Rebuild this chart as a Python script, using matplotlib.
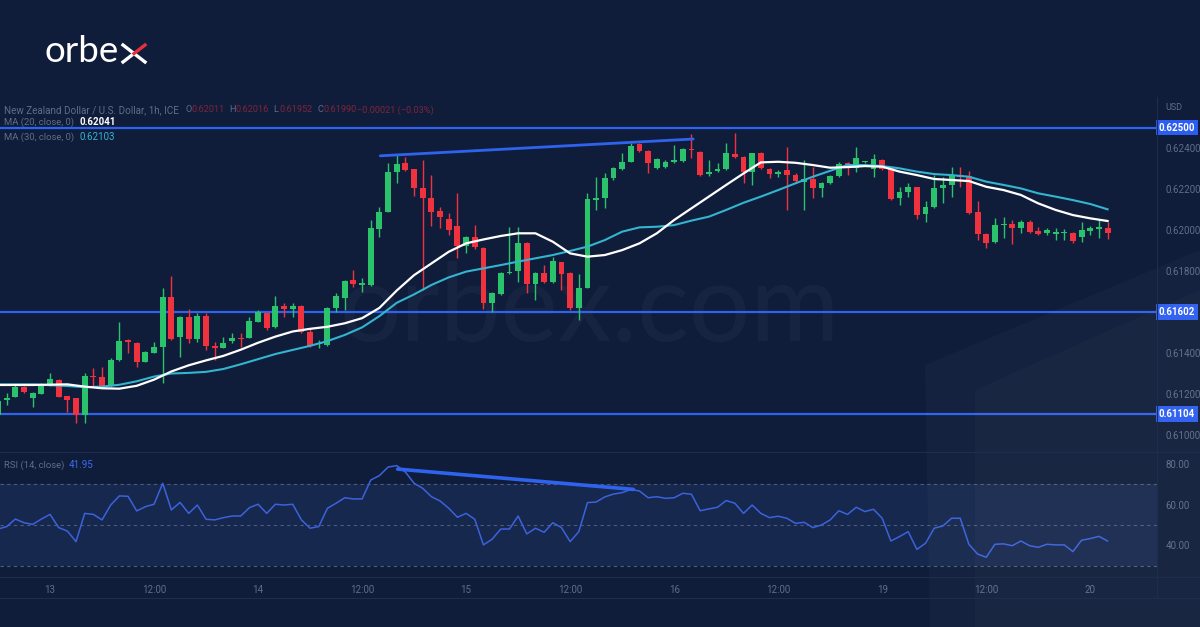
import numpy as np
import matplotlib.pyplot as plt
from matplotlib.patches import Polygon
from matplotlib.lines import Line2D

# ---- data (NZD/USD, 1h candles) ----
hours = np.arange(-6, 123)  # candle index, 0 = "13" 00:00

opens = [0.61098, 0.61171, 0.61187, 0.61236, 0.61179, 0.61200, 0.61239, 0.61268, 0.61190, 0.61179,
         0.61098, 0.61288, 0.61285, 0.61239, 0.61366, 0.61463, 0.61450, 0.61358, 0.61398, 0.61428,
         0.61672, 0.61476, 0.61577, 0.61468, 0.61582, 0.61434, 0.61426, 0.61457, 0.61475, 0.61475,
         0.61553, 0.61593, 0.61528, 0.61631, 0.61613, 0.61631, 0.61504, 0.61444, 0.61439, 0.61618,
         0.61667, 0.61756, 0.61732, 0.61732, 0.62003, 0.62089, 0.62281, 0.62328, 0.62296, 0.62203,
         0.62154, 0.62093, 0.62054, 0.62020, 0.61922, 0.61967, 0.61911, 0.61642, 0.61688, 0.61789,
         0.61800, 0.61938, 0.61735, 0.61792, 0.61745, 0.61842, 0.61792, 0.61618, 0.61719, 0.62146,
         0.62154, 0.62252, 0.62296, 0.62333, 0.62420, 0.62385, 0.62301, 0.62306, 0.62332, 0.62337,
         0.62395, 0.62382, 0.62273, 0.62289, 0.62296, 0.62369, 0.62354, 0.62281, 0.62374, 0.62296,
         0.62272, 0.62293, 0.62268, 0.62236, 0.62247, 0.62207, 0.62228, 0.62263, 0.62325, 0.62304,
         0.62330, 0.62296, 0.62341, 0.62301, 0.62154, 0.62187, 0.62208, 0.62078, 0.62114, 0.62203,
         0.62220, 0.62268, 0.62263, 0.62089, 0.61980, 0.61943, 0.62026, 0.62029, 0.62008, 0.62041,
         0.61995, 0.61987, 0.61980, 0.61985, 0.61984, 0.61967, 0.61997, 0.62003, 0.62011]
highs = [0.61175, 0.61207, 0.61244, 0.61241, 0.61208, 0.61252, 0.61301, 0.61272, 0.61192, 0.61182,
         0.61301, 0.61325, 0.61333, 0.61374, 0.61553, 0.61466, 0.61455, 0.61410, 0.61455, 0.61715,
         0.61776, 0.61580, 0.61613, 0.61597, 0.61597, 0.61455, 0.61480, 0.61496, 0.61496, 0.61577,
         0.61610, 0.61597, 0.61678, 0.61642, 0.61642, 0.61634, 0.61520, 0.61463, 0.61626, 0.61691,
         0.61756, 0.61805, 0.61764, 0.62049, 0.62114, 0.62328, 0.62366, 0.62358, 0.62300, 0.62341,
         0.62268, 0.62114, 0.62081, 0.62179, 0.61970, 0.62024, 0.61915, 0.61699, 0.61797, 0.62016,
         0.62016, 0.61943, 0.61797, 0.61829, 0.61870, 0.61846, 0.61797, 0.61784, 0.62179, 0.62260,
         0.62276, 0.62309, 0.62374, 0.62426, 0.62426, 0.62390, 0.62350, 0.62341, 0.62415, 0.62398,
         0.62468, 0.62387, 0.62341, 0.62325, 0.62423, 0.62475, 0.62361, 0.62377, 0.62379, 0.62301,
         0.62293, 0.62407, 0.62276, 0.62341, 0.62309, 0.62236, 0.62268, 0.62333, 0.62333, 0.62403,
         0.62335, 0.62371, 0.62345, 0.62309, 0.62211, 0.62231, 0.62211, 0.62143, 0.62268, 0.62260,
         0.62309, 0.62309, 0.62289, 0.62141, 0.61984, 0.62057, 0.62062, 0.62049, 0.62049, 0.62049,
         0.62016, 0.62008, 0.62008, 0.62003, 0.61992, 0.62041, 0.62020, 0.62049, 0.62041]
lows = [0.61090, 0.61146, 0.61185, 0.61207, 0.61138, 0.61198, 0.61237, 0.61184, 0.61114, 0.61057,
        0.61057, 0.61236, 0.61236, 0.61236, 0.61363, 0.61398, 0.61333, 0.61355, 0.61398, 0.61252,
        0.61463, 0.61382, 0.61447, 0.61455, 0.61415, 0.61366, 0.61423, 0.61447, 0.61431, 0.61472,
        0.61550, 0.61512, 0.61524, 0.61577, 0.61577, 0.61500, 0.61428, 0.61423, 0.61436, 0.61602,
        0.61610, 0.61724, 0.61699, 0.61729, 0.61967, 0.62086, 0.62228, 0.62290, 0.62166, 0.61707,
        0.62020, 0.62008, 0.61976, 0.61862, 0.61886, 0.61905, 0.61613, 0.61602, 0.61683, 0.61786,
        0.61748, 0.61691, 0.61659, 0.61740, 0.61740, 0.61707, 0.61610, 0.61561, 0.61716, 0.62098,
        0.62106, 0.62244, 0.62293, 0.62330, 0.62382, 0.62280, 0.62296, 0.62301, 0.62325, 0.62333,
        0.62350, 0.62263, 0.62263, 0.62285, 0.62293, 0.62350, 0.62228, 0.62220, 0.62297, 0.62252,
        0.62260, 0.62098, 0.62228, 0.62098, 0.62154, 0.62159, 0.62224, 0.62260, 0.62268, 0.62285,
        0.62325, 0.62257, 0.62293, 0.62146, 0.62122, 0.62163, 0.62052, 0.62041, 0.62106, 0.62130,
        0.62163, 0.62211, 0.62078, 0.61951, 0.61911, 0.61938, 0.61959, 0.61932, 0.61984, 0.61984,
        0.61976, 0.61976, 0.61951, 0.61951, 0.61938, 0.61943, 0.61976, 0.61959, 0.61955]
closes = [0.61166, 0.61182, 0.61233, 0.61211, 0.61203, 0.61241, 0.61272, 0.61187, 0.61171, 0.61098,
          0.61288, 0.61281, 0.61239, 0.61366, 0.61459, 0.61454, 0.61358, 0.61407, 0.61428, 0.61672,
          0.61468, 0.61577, 0.61467, 0.61582, 0.61436, 0.61426, 0.61450, 0.61472, 0.61468, 0.61556,
          0.61598, 0.61524, 0.61629, 0.61613, 0.61631, 0.61504, 0.61434, 0.61450, 0.61621, 0.61678,
          0.61751, 0.61737, 0.61740, 0.62008, 0.62089, 0.62281, 0.62322, 0.62293, 0.62203, 0.62158,
          0.62089, 0.62062, 0.62000, 0.61922, 0.61967, 0.61915, 0.61642, 0.61694, 0.61789, 0.61797,
          0.61935, 0.61735, 0.61789, 0.61745, 0.61849, 0.61785, 0.61618, 0.61719, 0.62151, 0.62156,
          0.62252, 0.62304, 0.62333, 0.62410, 0.62387, 0.62325, 0.62345, 0.62330, 0.62341, 0.62395,
          0.62390, 0.62268, 0.62285, 0.62300, 0.62374, 0.62358, 0.62281, 0.62374, 0.62304, 0.62272,
          0.62285, 0.62268, 0.62239, 0.62247, 0.62207, 0.62231, 0.62263, 0.62322, 0.62301, 0.62350,
          0.62332, 0.62345, 0.62296, 0.62151, 0.62184, 0.62208, 0.62073, 0.62111, 0.62203, 0.62220,
          0.62265, 0.62260, 0.62081, 0.61979, 0.61938, 0.62024, 0.62029, 0.62011, 0.62041, 0.61992,
          0.61980, 0.62000, 0.61989, 0.61988, 0.61948, 0.62000, 0.62008, 0.62016, 0.61987]

# moving averages, read at every second candle
ma_hours = [-6, -2, 2, 4, 6, 8, 10, 12, 14, 16, 18, 20, 22, 24, 26, 28, 30, 32, 34, 36, 38, 40,
            42, 44, 46, 48, 50, 52, 54, 56, 58, 60, 62, 64, 66, 68, 70, 72, 74, 76, 78, 80, 82,
            84, 86, 88, 90, 92, 94, 96, 98, 100, 102, 104, 106, 108, 110, 112, 114, 116, 118,
            120, 122]
ma20 = [0.61244, 0.61244, 0.61247, 0.61236, 0.61228, 0.61226, 0.61240, 0.61270, 0.61310, 0.61340,
        0.61364, 0.61386, 0.61416, 0.61450, 0.61480, 0.61505, 0.61518, 0.61528, 0.61545, 0.61570,
        0.61620, 0.61705, 0.61780, 0.61837, 0.61894, 0.61935, 0.61954, 0.61971, 0.61984, 0.61984,
        0.61943, 0.61886, 0.61870, 0.61878, 0.61902, 0.61935, 0.61984, 0.62049, 0.62106, 0.62163,
        0.62220, 0.62276, 0.62330, 0.62333, 0.62328, 0.62317, 0.62304, 0.62307, 0.62312, 0.62309,
        0.62285, 0.62268, 0.62249, 0.62244, 0.62239, 0.62211, 0.62195, 0.62171, 0.62130, 0.62098,
        0.62073, 0.62057, 0.62044]
ma30 = [0.61247, 0.61247, 0.61239, 0.61233, 0.61236, 0.61245, 0.61262, 0.61285, 0.61300, 0.61303,
        0.61308, 0.61322, 0.61345, 0.61370, 0.61395, 0.61415, 0.61435, 0.61458, 0.61488, 0.61525,
        0.61580, 0.61645, 0.61686, 0.61732, 0.61769, 0.61797, 0.61813, 0.61829, 0.61846, 0.61862,
        0.61878, 0.61898, 0.61919, 0.61951, 0.61992, 0.62013, 0.62016, 0.62024, 0.62046, 0.62065,
        0.62098, 0.62133, 0.62163, 0.62195, 0.62228, 0.62260, 0.62289, 0.62317, 0.62317, 0.62312,
        0.62301, 0.62285, 0.62273, 0.62268, 0.62260, 0.62236, 0.62220, 0.62203, 0.62179, 0.62163,
        0.62146, 0.62127, 0.62101]

rsi = [48.0, 49.2, 52.9, 51.1, 50.3, 52.9, 55.2, 48.7, 47.0, 41.8,
       55.7, 55.2, 52.5, 59.8, 64.3, 64.1, 56.9, 59.0, 60.2, 70.5,
       57.4, 61.1, 55.7, 59.8, 52.8, 52.5, 53.6, 54.4, 54.4, 58.5,
       60.2, 55.7, 60.2, 59.8, 60.2, 52.5, 48.4, 49.2, 58.2, 60.7,
       63.4, 62.8, 62.8, 72.1, 74.3, 78.5, 79.2, 76.0, 70.5, 68.0,
       63.9, 61.8, 58.2, 53.8, 55.7, 52.8, 40.2, 43.0, 48.0, 48.0,
       54.4, 45.6, 48.4, 46.4, 51.1, 48.7, 41.8, 46.7, 61.0, 61.3,
       63.8, 65.2, 65.9, 67.5, 66.7, 63.4, 63.9, 63.1, 63.4, 65.6,
       65.1, 57.0, 57.9, 58.7, 62.0, 60.7, 55.7, 59.8, 55.7, 53.6,
       54.3, 53.3, 50.8, 51.3, 48.7, 50.0, 52.5, 57.0, 55.2, 58.7,
       56.6, 57.7, 53.3, 42.1, 44.3, 46.7, 38.0, 41.0, 48.4, 49.5,
       53.3, 53.3, 40.5, 35.7, 34.1, 40.5, 40.7, 39.8, 42.1, 39.8,
       39.0, 40.5, 40.2, 40.2, 36.9, 42.5, 43.3, 44.4, 42.1]

tick_pos = [0, 12, 24, 36, 48, 60, 72, 84, 96, 108, 120]
tick_labels = ["13", "12:00", "14", "12:00", "15", "12:00", "16", "12:00", "19", "12:00", "20"]
price_ticks = [0.610, 0.612, 0.614, 0.618, 0.620, 0.622, 0.624]
levels = [0.62500, 0.61602, 0.61104]
rsi_ticks = [40, 60, 80]

# drawn trend lines (start / end)
res_x, res_y = [38.1, 74.2], [0.62362, 0.62444]
rsi_tl_x, rsi_tl_y = [40.1, 67.3], [77.5, 67.5]

# ---- style ----
BG = "#0f1d3b"
GREEN = "#2bc26c"
RED = "#f0323f"
BLUE = "#2f63ee"
GRAY = "#5f6d88"
SEP = "#1d2d4d"
plt.rcParams["font.family"] = ["Roboto", "DejaVu Sans"]

W, H = 1200, 627


def fx(px):
    return px / W


def fy(py):
    return 1 - py / H


fig = plt.figure(figsize=(12, 6.27), dpi=100, facecolor=BG)

# faint background decoration
fig.patches.append(Polygon([(fx(930), fy(627)), (fx(925), fy(365)), (fx(1200), fy(250)),
                            (fx(1200), fy(627))], closed=True, transform=fig.transFigure,
                           fc="white", alpha=0.025, ec="none", zorder=0))
fig.patches.append(Polygon([(fx(975), fy(627)), (fx(975), fy(390)), (fx(1200), fy(290)),
                            (fx(1200), fy(627))], closed=True, transform=fig.transFigure,
                           fc="white", alpha=0.02, ec="none", zorder=0))

left, right = fx(0), fx(1157)
ax = fig.add_axes([left, fy(452), right - left, fy(97) - fy(452)])
rax = fig.add_axes([left, fy(577), right - left, fy(452) - fy(577)], sharex=ax)
for a in (ax, rax):
    a.set_facecolor("none")
    for s in a.spines.values():
        s.set_visible(False)

# ---- price panel ----
o = np.array(opens)
c = np.array(closes)
up = c >= o
cols = np.where(up, GREEN, RED)
body_lo = np.minimum(o, c)
body_h = np.maximum(np.abs(c - o), 0.00005)
ax.vlines(hours, lows, highs, colors=cols, lw=1, zorder=3)
ax.bar(hours, body_h, bottom=body_lo, width=0.68, color=cols, lw=0, zorder=4)

ax.plot(ma_hours, ma30, color="#33b4cf", lw=1.5, zorder=5)
ax.plot(ma_hours, ma20, color="white", lw=1.6, zorder=5)

for lv in levels:
    ax.axhline(lv, color=BLUE, lw=1.6, zorder=2)
    ax.text(1.0015, lv, f"{lv:.5f}", transform=ax.get_yaxis_transform(), ha="left",
            va="center", fontsize=7, fontweight="bold", color="white", clip_on=False,
            bbox=dict(boxstyle="square,pad=0.3", fc="#2a5df0", ec="none"))
ax.plot(res_x, res_y, color=BLUE, lw=2, zorder=6, solid_capstyle="round")

ax.set_xlim(-5.77, 127.7)
ax.set_ylim(0.60917, 0.62649)
ax.yaxis.tick_right()
ax.set_yticks(price_ticks)
ax.set_yticklabels([f"{t:.5f}" for t in price_ticks])
ax.tick_params(axis="y", length=0, pad=6, labelsize=7, labelcolor=GRAY)
ax.tick_params(axis="x", bottom=False, labelbottom=False)

# watermark
ax.text(0.51, 0.40, "orbex.com", transform=ax.transAxes, ha="center", va="center",
        fontsize=78, color="white", alpha=0.035, family="Lato", zorder=1)

# ---- RSI panel ----
rax.axhspan(30, 70, color="#1a2c55", alpha=0.75, lw=0, zorder=0)
for lv in (70, 50, 30):
    rax.axhline(lv, color="#4d5c7c", lw=0.8, ls=(0, (3, 3)), zorder=1)
rax.plot(hours, rsi, color="#3b62dc", lw=1.1, zorder=3)
rax.plot(rsi_tl_x, rsi_tl_y, color=BLUE, lw=2.6, zorder=4, solid_capstyle="round")
rax.set_ylim(24.4, 85.9)
rax.yaxis.tick_right()
rax.set_yticks(rsi_ticks)
rax.set_yticklabels([f"{t:.2f}" for t in rsi_ticks])
rax.tick_params(axis="y", length=0, pad=6, labelsize=7, labelcolor=GRAY)
rax.set_xticks(tick_pos)
rax.set_xticklabels(tick_labels)
rax.tick_params(axis="x", length=0, pad=6, labelsize=7, labelcolor=GRAY)

# ---- separators ----
for py in (452, 577, 598):
    fig.add_artist(Line2D([0, fx(1200)], [fy(py), fy(py)], color=SEP, lw=0.8))
fig.add_artist(Line2D([right, right], [fy(97), fy(598)], color=SEP, lw=0.8))

# ---- header texts ----
fig.text(fx(4), fy(110), "New Zealand Dollar / U.S. Dollar, 1h, ICE", fontsize=7.1,
         color=GRAY, va="center")
for px, lab, val in [(185, "O", "0.62011"), (229, "H", "0.62016"), (273, "L", "0.61952"),
                     (317, "C", "0.61990")]:
    fig.text(fx(px), fy(110), lab, fontsize=6.6, color=GRAY, va="center")
    fig.text(fx(px + 6), fy(110), val, fontsize=6.6, color="#9a2638", va="center", alpha=0.8)
fig.text(fx(357), fy(110), "\u22120.00021 (\u22120.03%)", fontsize=6.6, color="#9a2638",
         va="center", alpha=0.8)
fig.text(fx(4), fy(122), "MA (20, close, 0)", fontsize=6.8, color=GRAY, va="center")
fig.text(fx(80), fy(122), "0.62041", fontsize=7, color="white", va="center",
         fontweight="bold")
fig.text(fx(4), fy(137), "MA (30, close, 0)", fontsize=6.8, color=GRAY, va="center")
fig.text(fx(80), fy(137), "0.62103", fontsize=7, color="#33b4cf", va="center")
fig.text(fx(1165), fy(107), "USD", fontsize=6.5, color=GRAY, va="center")
fig.text(fx(4), fy(465), "RSI (14, close)", fontsize=6.8, color=GRAY, va="center")
fig.text(fx(69), fy(465), "41.95", fontsize=7, color="#3b6cf0", va="center")

# ---- logo ----
fig.text(fx(44), fy(62), "orbe", fontsize=26.5, color="white", family="Lato",
         va="baseline", ha="left")
fig.add_artist(Line2D([fx(123), fx(145)], [fy(45), fy(62)], color="white", lw=2.4))
fig.add_artist(Line2D([fx(123), fx(134)], [fy(62), fy(53.5)], color="white", lw=2.4))
fig.add_artist(Line2D([fx(134), fx(145)], [fy(53.5), fy(45)], color="#e8303c", lw=2.4))

fig.savefig("out.png", dpi=100, facecolor=BG)
